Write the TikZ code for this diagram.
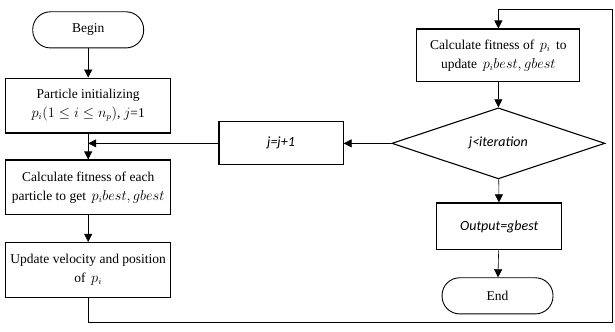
\documentclass[tikz,border=0pt]{standalone}
\usepackage{amsmath,amssymb}
\usepackage{fontspec}
\setmainfont{Liberation Serif}
\newfontfamily\calib{Carlito}
\usepackage{tikz}
\usetikzlibrary{arrows.meta, positioning, shapes.geometric}

\begin{document}
\begin{tikzpicture}[
    box/.style={draw, line width=1.1pt, minimum width=5.8cm, minimum height=1.93cm, font=\fontsize{13.5}{19}\selectfont, align=center, inner sep=1pt},
    term/.style={draw, line width=0.9pt, rounded corners=0.62cm, minimum width=3.9cm, minimum height=1.27cm, font=\fontsize{13.5}{16}\selectfont},
    cond/.style={draw, diamond, line width=1.1pt, minimum width=7.49cm, minimum height=2.21cm, inner sep=0pt, font=\calib\itshape\fontsize{14}{16}\selectfont},
    arrow/.style={-{Triangle[length=8pt, width=8pt]}, line width=0.6pt},
    line/.style={line width=0.6pt}
]
\useasboundingbox (0,0) rectangle (21.62,11.67);

% --- left column ---
\node[term] (begin) at (3.1, 10.62) {Begin};
\node[box] (init) at (3.1, 7.96) {Particle initializing\\$p_i(1 \leq i \leq n_p)$, $j$=1};
\node[box] (fitall) at (3.1, 5.08) {Calculate fitness of each\\particle to get \,$p_i best, gbest$};
\node[box] (update) at (3.1, 2.18) {Update velocity and position\\of \,$p_i$};
\draw[arrow] (begin) -- (init);
\draw[arrow] (init) -- (fitall);
\draw[arrow] (fitall) -- (update);

% --- counter ---
\node[box, minimum width=4.36cm, minimum height=1.51cm, font=\calib\itshape\fontsize{14}{16}\selectfont] (incr) at (9.88, 6.63) {j=j+1};
\draw[arrow] (incr.west) -- (incr.west -| init.south);

% --- right column ---
\node[box, minimum width=5.73cm, minimum height=1.86cm] (fitone) at (17.52, 9.72) {Calculate fitness of \,$p_i$\, to\\update \,$p_i best, gbest$};
\node[cond] (check) at (17.52, 6.63) {j<iteration};
\node[box, minimum width=4.39cm, minimum height=1.65cm, font=\calib\itshape\fontsize{14}{16}\selectfont] (output) at (17.55, 3.71) {Output=gbest};
\node[term] (end) at (17.49, 1.27) {End};
\draw[arrow] (fitone) -- (check);
\draw[arrow] (check) -- (incr);
\draw[arrow] (check) -- (output);
\draw[arrow] (output) -- (end);

% loop back
\coordinate (br) at (21.51, 0.35);
\coordinate (tr) at (21.51, 11.35);
\draw[arrow] (update.south) |- (br) -- (tr) -| (fitone.north);

\end{tikzpicture}
\end{document}
